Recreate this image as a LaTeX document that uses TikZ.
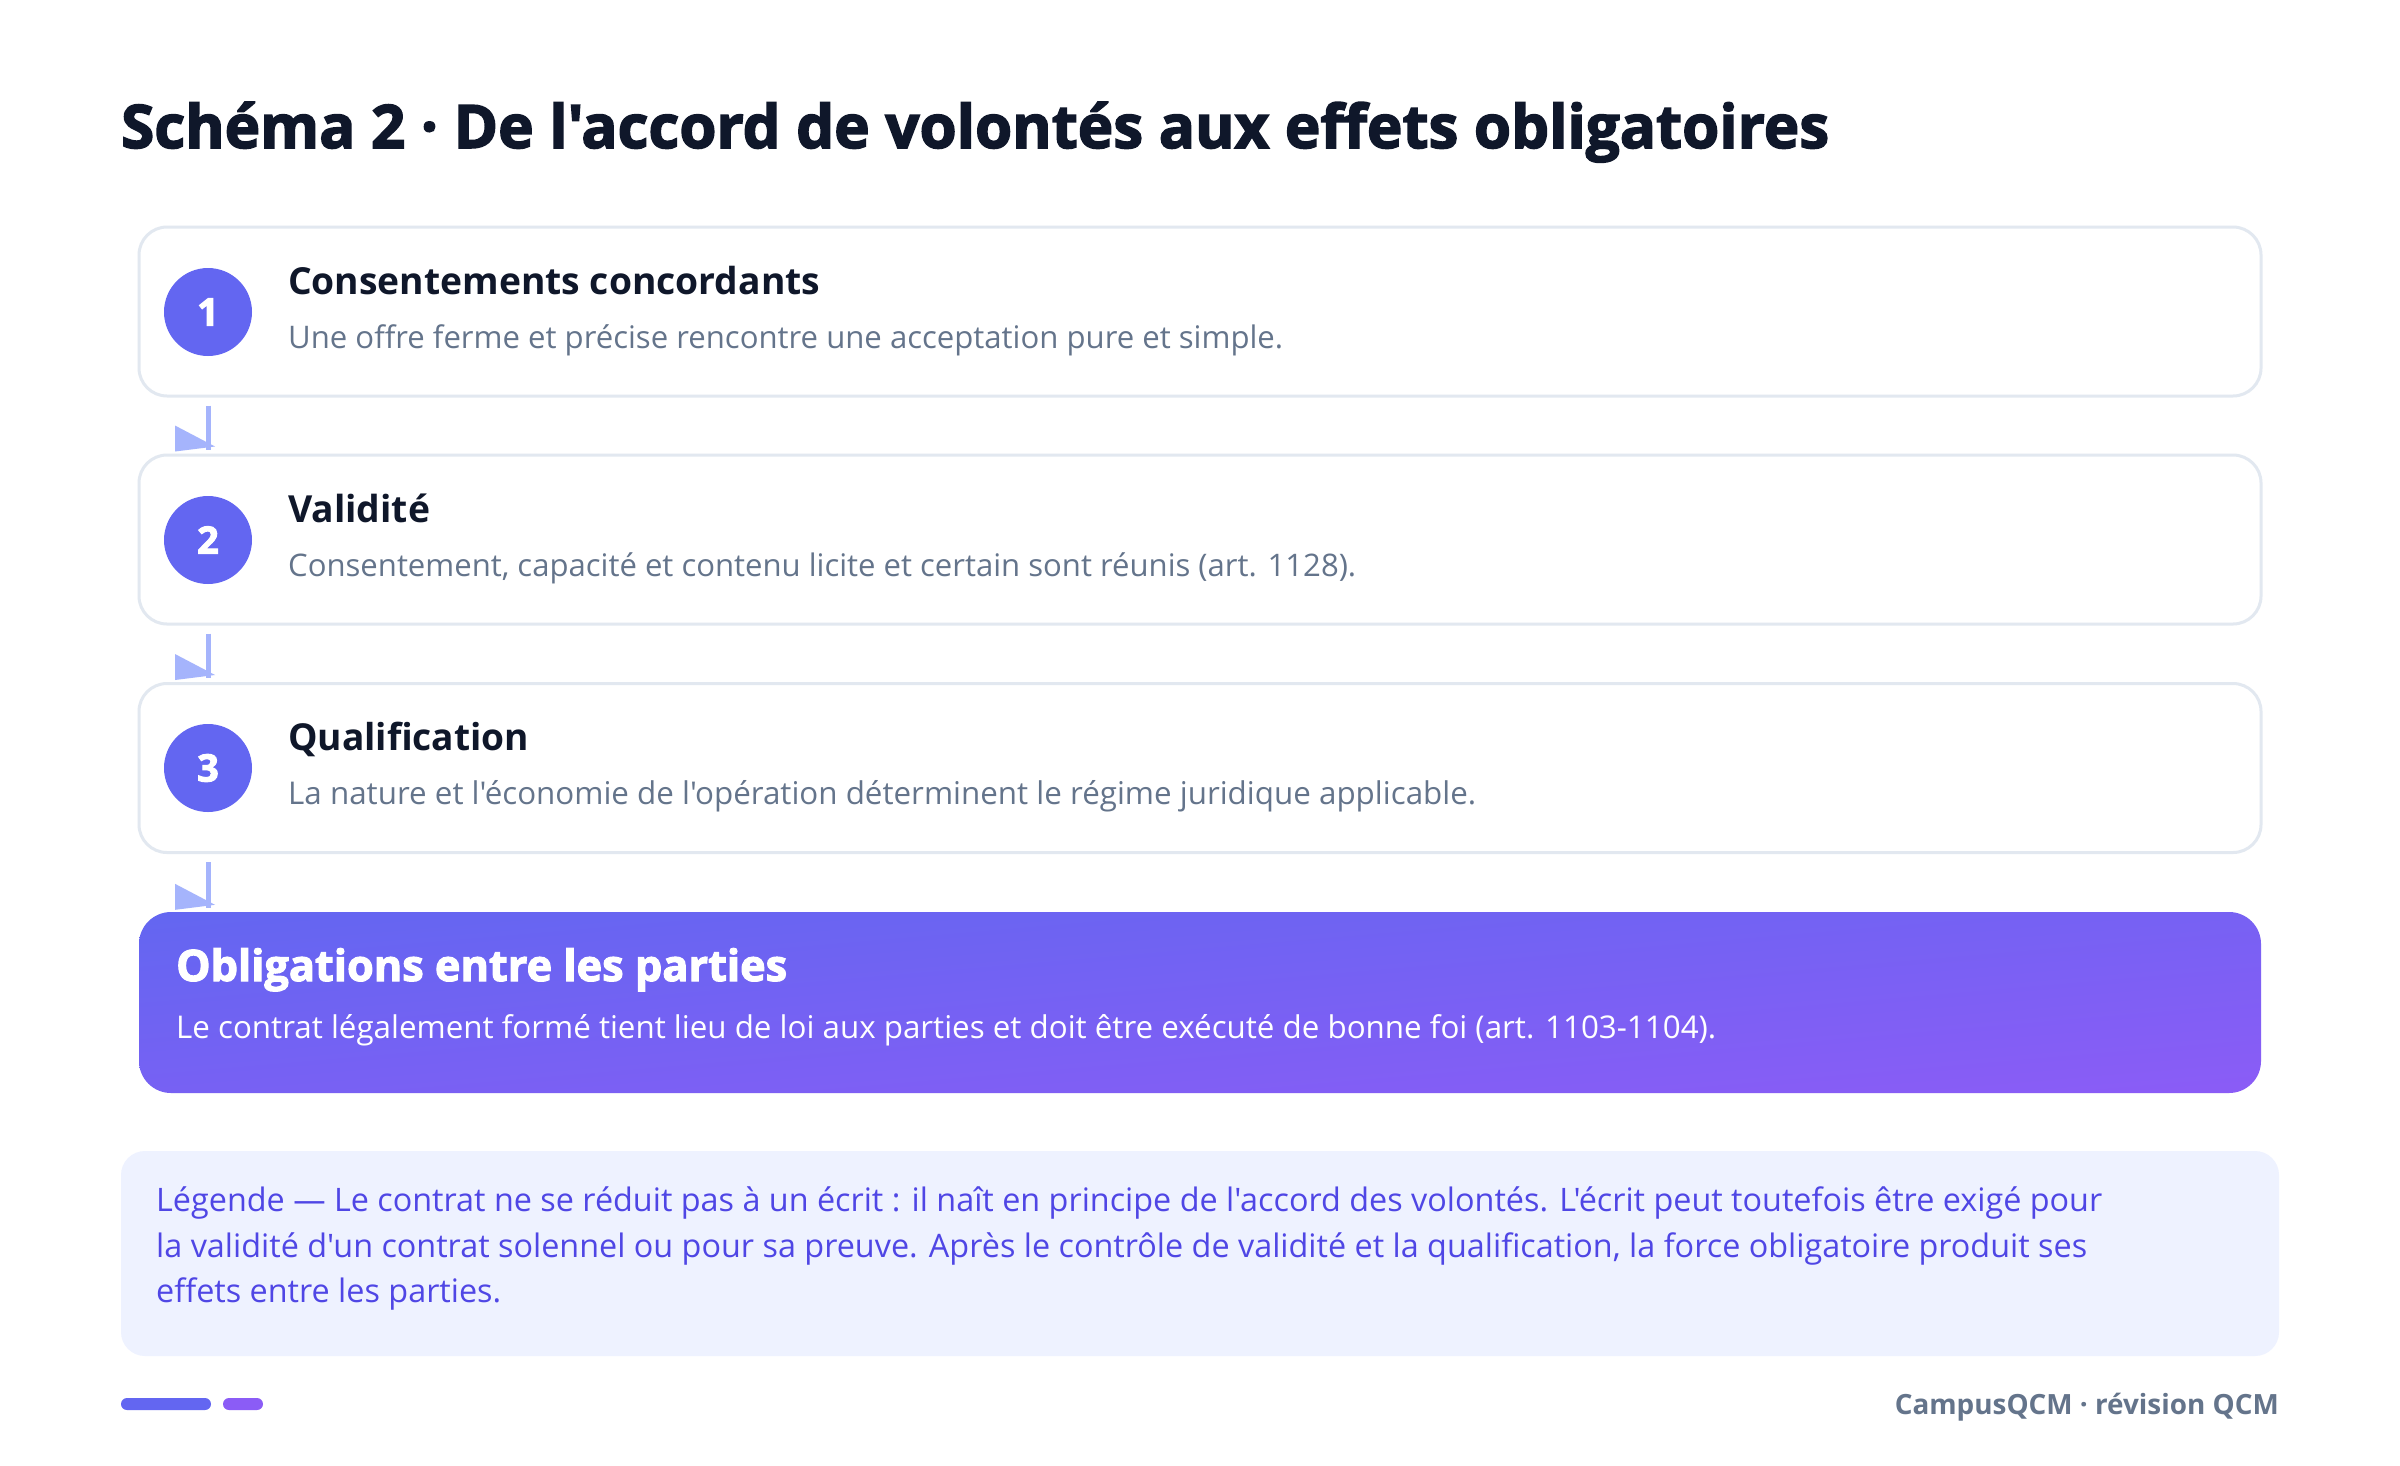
\documentclass[tikz,border=0pt]{standalone}
\usepackage{graphicx}
\usepackage{fontspec}
\setmainfont{Open Sans}[Ligatures=TeXOff]
\newfontfamily\heavy{Open Sans}[Ligatures=TeXOff, BoldFeatures={FakeBold=2.5}]
\usetikzlibrary{calc,shadings}
\definecolor{ink}{HTML}{0F172A}
\definecolor{slate}{HTML}{64748B}
\definecolor{bord}{HTML}{E2E8F0}
\definecolor{indA}{HTML}{6366F1}
\definecolor{vioA}{HTML}{8B5CF6}
\definecolor{midc}{HTML}{7761F3}
\definecolor{arr}{HTML}{A5B4FC}
\definecolor{legbg}{HTML}{EEF2FF}
\definecolor{legtx}{HTML}{4F46E5}
\newcommand{\fitw}[2]{\resizebox{#1pt}{!}{#2}}
\newcommand{\fs}[1]{\fontsize{#1}{#1}\selectfont}
\newlength\leglen
\begin{document}
\settowidth\leglen{\fs{30}Légende — Le contrat ne se réduit pas à un écrit : il naît en principe de l'accord des volontés. L'écrit peut toutefois être exigé pour}%
\pgfmathsetmacro\legscale{1946/\leglen}%
\begin{tikzpicture}[x=1pt,y=-1pt,
  stepbox/.style={draw=bord, line width=3pt, fill=white, rounded corners=28pt,
    minimum width=2122pt, minimum height=169pt, inner sep=0pt},
  badge/.style={circle, fill=indA, minimum size=88pt, inner sep=0pt, text=white,
    font=\heavy\fs{38}\bfseries},
  ttl/.style={anchor=base west, inner sep=0pt, text=ink},
  sub/.style={anchor=base west, inner sep=0pt, text=slate},
  conn/.style={draw=arr, line width=5pt},
  arrowfill/.style={fill=arr},
]
\useasboundingbox (0,0) rectangle (2400,1465);
\fill[white] (0,0) rectangle (2400,1465);

% title
\node[ttl] (title) at (121,148) {\fitw{1708}{\heavy\fs{62}\bfseries Schéma 2 · De l'accord de volontés aux effets obligatoires}};

% step boxes
\node[stepbox] (b1) at (1200,311.5) {};
\node[stepbox] (b2) at (1200,539.5) {};
\node[stepbox] (b3) at (1200,768) {};

\node[badge] (c1) at (208,312) {1};
\node[badge] (c2) at (208,540) {2};
\node[badge] (c3) at (208,768) {3};

\node[ttl] (t1) at (288,294) {\fitw{532}{\fs{38}\bfseries Consentements concordants}};
\node[sub] (s1) at (288,348) {\fitw{995}{\fs{30}Une offre ferme et précise rencontre une acceptation pure et simple.}};
\node[ttl] (t2) at (288,522) {\fitw{142}{\fs{38}\bfseries Validité}};
\node[sub] (s2) at (288,576) {\fitw{1068}{\fs{30}Consentement, capacité et contenu licite et certain sont réunis (art. 1128).}};
\node[ttl] (t3) at (288,750) {\fitw{241}{\fs{38}\bfseries Qualification}};
\node[sub] (s3) at (288,804) {\fitw{1188}{\fs{30}La nature et l'économie de l'opération déterminent le régime juridique applicable.}};

% final box
\node[rounded corners=32pt, upper left=indA, upper right=midc, lower left=midc, lower right=vioA, draw=none,
  minimum width=2122pt, minimum height=181pt, inner sep=0pt] (fin) at (1200,1002.5) {};
\node[anchor=base west, inner sep=0pt, text=white] (ft) at (176,981) {\fitw{611}{\heavy\fs{40}\bfseries Obligations entre les parties}};
\node[anchor=base west, inner sep=0pt, text=white] (fs) at (176,1038) {\fitw{1540}{\fs{30}Le contrat légalement formé tient lieu de loi aux parties et doit être exécuté de bonne foi (art. 1103-1104).}};

% connectors
\path (b2.north -| c1) ++(0,-4) coordinate (e1);
\path (b3.north -| c1) ++(0,-4) coordinate (e2);
\path (fin.north -| c1) ++(0,-4) coordinate (e3);
\draw[conn, shorten <=8pt] (b1.south -| c1) -- (e1);
\draw[conn, shorten <=8pt] (b2.south -| c1) -- (e2);
\draw[conn, shorten <=8pt] (b3.south -| c1) -- (e3);
\fill[arrowfill] (e1) ++(-33,-24) -- ++(0,26) -- ++(40,-5) -- cycle;
\fill[arrowfill] (e2) ++(-33,-24) -- ++(0,26) -- ++(40,-5) -- cycle;
\fill[arrowfill] (e3) ++(-33,-24) -- ++(0,26) -- ++(40,-5) -- cycle;

% legend
\node[fill=legbg, rounded corners=24pt, minimum width=2158pt, minimum height=205pt, inner sep=0pt] (leg) at (1200,1253.5) {};
\node[anchor=base west, inner sep=0pt, text=legtx] (l1) at (156,1211) {\scalebox{\legscale}{\fs{30}Légende — Le contrat ne se réduit pas à un écrit : il naît en principe de l'accord des volontés. L'écrit peut toutefois être exigé pour}};
\node[anchor=base west, inner sep=0pt, text=legtx] (l2) at (156,1257) {\scalebox{\legscale}{\fs{30}la validité d'un contrat solennel ou pour sa preuve. Après le contrôle de validité et la qualification, la force obligatoire produit ses}};
\node[anchor=base west, inner sep=0pt, text=legtx] (l3) at (156,1302) {\scalebox{\legscale}{\fs{30}effets entre les parties.}};

% footer
\fill[indA, rounded corners=6pt] (121,1398) rectangle (211,1410);
\fill[vioA, rounded corners=6pt] (223,1398) rectangle (263,1410);
\node[anchor=base east, inner sep=0pt, text=slate] (foot) at (2279,1414) {\fitw{384}{\fs{27}\bfseries CampusQCM · révision QCM}};
\end{tikzpicture}
\end{document}
